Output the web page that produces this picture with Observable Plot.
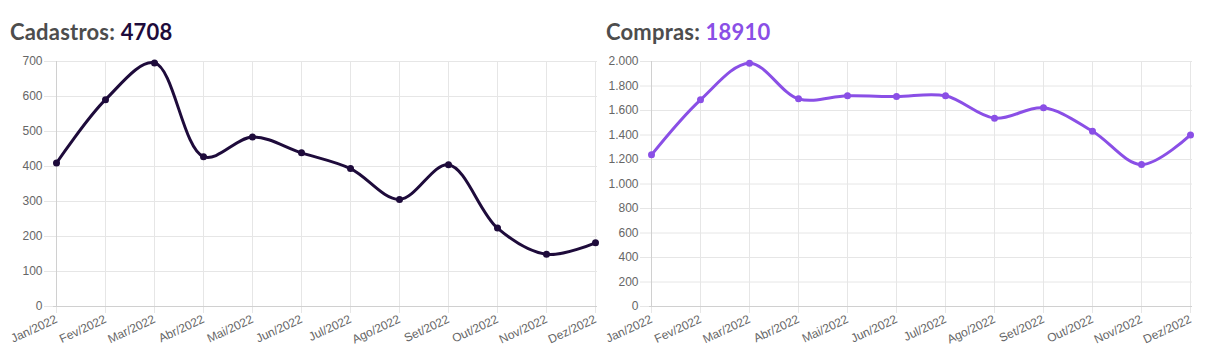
<!DOCTYPE html>
<html>
<head>
<meta charset="utf-8">
<script src="https://cdn.jsdelivr.net/npm/d3@7"></script>
<script src="https://cdn.jsdelivr.net/npm/@observablehq/plot@0.6"></script>
<style>
  body { margin: 0; background: #fff; width: 1208px; height: 362px; overflow: hidden; position: relative; }
  .panel { position: absolute; top: 0; }
  .title { position: absolute; top: 18px; font-family: Lato, sans-serif; font-weight: 700; font-size: 22px; color: #4d4d4d; white-space: nowrap; letter-spacing: 0.2px; }
  .chart { position: absolute; top: 50px; left: 0; }
</style>
</head>
<body>
<div class="panel" id="p1" style="left:0;width:600px;"><div class="title" style="left:10px">Cadastros: <span style="color:#1e0b3b">4708</span></div><div class="chart" id="c1"></div></div>
<div class="panel" id="p2" style="left:600px;width:608px;"><div class="title" style="left:6px">Compras: <span style="color:#8a4fe6">18910</span></div><div class="chart" id="c2"></div></div>
<script>
const months = ["Jan/2022","Fev/2022","Mar/2022","Abr/2022","Mai/2022","Jun/2022","Jul/2022","Ago/2022","Set/2022","Out/2022","Nov/2022","Dez/2022"];
const cadastros = [410, 591, 696, 428, 484, 439, 394, 306, 405, 224, 149, 182];
const compras = [1238, 1687, 1986, 1695, 1720, 1714, 1720, 1537, 1622, 1431, 1159, 1401];
const cadastrosTicks = [0, 100, 200, 300, 400, 500, 600, 700];
const comprasTicks = [0, 200, 400, 600, 800, 1000, 1200, 1400, 1600, 1800, 2000];

const ptBR = d3.formatLocale({decimal: ",", thousands: ".", grouping: [3], currency: ["R$", ""]});
const fmt = ptBR.format(",");

function chart(values, ticks, color, width, ml, mr) {
  const data = months.map((m, i) => ({month: m, value: values[i]}));
  const grid = "#e6e6e6";
  return Plot.plot({
    width, height: 312,
    marginLeft: ml, marginRight: mr, marginTop: 11, marginBottom: 56,
    style: {fontFamily: "'Liberation Sans', Arial, sans-serif", fontSize: "12px", color: "#666", background: "transparent"},
    x: {type: "point", domain: months, padding: 0},
    y: {domain: [0, ticks[ticks.length - 1]]},
    marks: [
      Plot.gridX(months, {stroke: grid, strokeOpacity: 1}),
      Plot.gridY(ticks, {stroke: grid, strokeOpacity: 1}),
      Plot.axisY(ticks, {tickSize: 9, tickPadding: 2, stroke: grid, fill: "#666", tickFormat: fmt, label: null}),
      Plot.axisX(months, {tickSize: 7, tickPadding: 5, tickRotate: -25, stroke: grid, fill: "#666", label: null}),
      Plot.ruleY([0], {stroke: "#d0d0d0"}),
      Plot.ruleX([months[0]], {stroke: "#d0d0d0"}),
      Plot.line(data, {x: "month", y: "value", stroke: color, strokeWidth: 3, curve: "catmull-rom"}),
      Plot.dot(data, {x: "month", y: "value", fill: color, r: 3.5})
    ]
  });
}

document.getElementById("c1").append(chart(cadastros, cadastrosTicks, "#1e0b3b", 600, 53, 3));
document.getElementById("c2").append(chart(compras, comprasTicks, "#8a4fe6", 608, 49, 16));
</script>
</body>
</html>
